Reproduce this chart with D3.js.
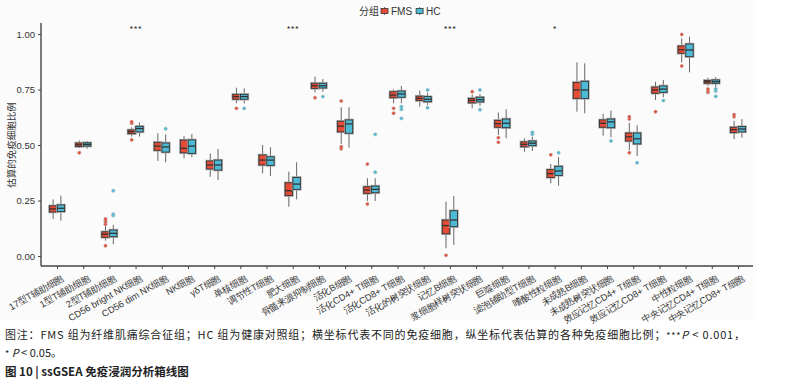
<!DOCTYPE html>
<html>
<head>
<meta charset="utf-8">
<script src="https://cdn.jsdelivr.net/npm/d3@7"></script>
<style>
  html, body { margin: 0; padding: 0; background: #fff; }
  svg { display: block; font-family: "Noto Sans CJK SC", "Noto Sans", sans-serif; }
</style>
</head>
<body>
<svg id="chart" width="796" height="387"></svg>
<script>
// ============================================================
//  Data
// ============================================================

const categories = [
  '17型T辅助细胞', '1型T辅助细胞', '2型T辅助细胞', 'CD56 bright NK细胞', 'CD56 dim NK细胞',
  'NK细胞', 'γδT细胞', '单核细胞', '调节性T细胞', '肥大细胞', '骨髓来源抑制细胞',
  '活化B细胞', '活化CD4+ T细胞', '活化CD8+ T细胞', '活化的树突状细胞', '记忆B细胞',
  '浆细胞样树突状细胞', '巨噬细胞', '滤泡辅助型T细胞', '嗜酸性粒细胞', '未成熟B细胞',
  '未成熟树突状细胞', '效应记忆CD4+ T细胞', '效应记忆CD8+ T细胞', '中性粒细胞',
  '中央记忆CD4+ T细胞', '中央记忆CD8+ T细胞'
];

const groups = ['FMS', 'HC'];

// [lower whisker, q1, median, q3, upper whisker]
const fmsBox = [
  [0.167, 0.198, 0.212, 0.226, 0.255], [0.486, 0.493, 0.501, 0.509, 0.520],
  [0.069, 0.084, 0.098, 0.109, 0.135], [0.538, 0.551, 0.560, 0.568, 0.580],
  [0.428, 0.476, 0.495, 0.512, 0.553], [0.440, 0.465, 0.485, 0.522, 0.540],
  [0.357, 0.392, 0.410, 0.428, 0.462], [0.688, 0.706, 0.718, 0.728, 0.758],
  [0.372, 0.410, 0.432, 0.455, 0.500], [0.222, 0.272, 0.294, 0.330, 0.380],
  [0.737, 0.755, 0.767, 0.778, 0.808], [0.505, 0.559, 0.585, 0.607, 0.670],
  [0.248, 0.282, 0.297, 0.312, 0.350], [0.688, 0.713, 0.725, 0.740, 0.751],
  [0.673, 0.700, 0.710, 0.720, 0.745], [0.035, 0.100, 0.137, 0.162, 0.245],
  [0.665, 0.690, 0.701, 0.710, 0.727], [0.545, 0.580, 0.596, 0.611, 0.646],
  [0.470, 0.492, 0.503, 0.514, 0.530], [0.327, 0.354, 0.371, 0.389, 0.414],
  [0.650, 0.710, 0.748, 0.782, 0.872], [0.542, 0.580, 0.598, 0.613, 0.640],
  [0.477, 0.518, 0.537, 0.554, 0.600], [0.703, 0.733, 0.748, 0.761, 0.785],
  [0.872, 0.913, 0.929, 0.946, 0.980], [0.766, 0.778, 0.785, 0.791, 0.803],
  [0.526, 0.556, 0.569, 0.580, 0.609]
];
const fmsOut = [
  [], [0.465], [0.046, 0.143, 0.152, 0.159, 0.167], [0.523, 0.598, 0.605], [], [], [],
  [0.665], [], [], [0.713], [0.483, 0.492, 0.698], [0.234, 0.414], [0.643, 0.665], [],
  [0.003], [0.740], [0.512, 0.533], [], [0.456], [], [], [0.465, 0.617, 0.627], [0.650],
  [0.856, 0.998], [0.737, 0.743, 0.752], [0.627, 0.637]
];

const hcBox = [
  [0.159, 0.200, 0.215, 0.230, 0.272], [0.483, 0.495, 0.503, 0.510, 0.518],
  [0.053, 0.087, 0.102, 0.117, 0.140], [0.538, 0.559, 0.574, 0.584, 0.602],
  [0.422, 0.468, 0.491, 0.509, 0.548], [0.445, 0.462, 0.495, 0.523, 0.550],
  [0.342, 0.387, 0.410, 0.432, 0.482], [0.688, 0.706, 0.718, 0.728, 0.755],
  [0.360, 0.408, 0.432, 0.447, 0.490], [0.255, 0.300, 0.324, 0.354, 0.422],
  [0.740, 0.757, 0.767, 0.778, 0.797], [0.488, 0.553, 0.595, 0.613, 0.670],
  [0.248, 0.285, 0.300, 0.315, 0.350], [0.688, 0.715, 0.730, 0.743, 0.766],
  [0.680, 0.695, 0.706, 0.718, 0.735], [0.050, 0.132, 0.162, 0.204, 0.270],
  [0.676, 0.694, 0.704, 0.715, 0.730], [0.530, 0.578, 0.598, 0.617, 0.661],
  [0.473, 0.497, 0.508, 0.518, 0.537], [0.317, 0.363, 0.383, 0.404, 0.445],
  [0.643, 0.710, 0.748, 0.787, 0.868], [0.535, 0.578, 0.604, 0.617, 0.655],
  [0.450, 0.505, 0.528, 0.554, 0.589], [0.715, 0.737, 0.752, 0.766, 0.793],
  [0.827, 0.898, 0.928, 0.955, 0.988], [0.761, 0.778, 0.785, 0.793, 0.806],
  [0.533, 0.559, 0.572, 0.583, 0.617]
];
const hcOut = [
  [], [], [0.182, 0.188, 0.294], [], [0.573], [], [], [0.665], [], [], [0.718], [],
  [0.377, 0.548], [0.620, 0.661, 0.673], [0.668, 0.748], [], [0.659, 0.748], [],
  [0.548, 0.557], [0.465], [], [0.518], [0.420], [0.700], [], [0.719, 0.743, 0.752], []
];

const sigLabels = ['', '', '', '***', '', '', '', '', '', '***', '', '', '', '', '',
  '***', '', '', '', '*', '', '', '', '', '', '', ''];

const yTicks = [0, 0.25, 0.5, 0.75, 1];

const colors = { FMS: '#e64b35', HC: '#4dbbd5' };

// ============================================================
//  Layout
// ============================================================

const svg = d3.select('#chart');
const axisLeftX = 41;
const axisRightX = 753;
const axisBottomY = 266;

svg.append('rect')
  .attr('x', 0).attr('y', 0)
  .attr('width', 756).attr('height', 320)
  .attr('fill', '#fbfbfb');

const x = d3.scalePoint().domain(categories).range([57, 738]);
const y = d3.scaleLinear().domain([0, 1]).range([256, 34]);
const dodge = d3.scaleOrdinal().domain(groups).range([-3.9, 3.9]);
const boxW = 7.4;

// axes
svg.append('line')
  .attr('x1', axisLeftX).attr('x2', axisLeftX)
  .attr('y1', 23).attr('y2', axisBottomY)
  .attr('stroke', '#444').attr('stroke-width', 1.4);
svg.append('line')
  .attr('x1', axisLeftX).attr('x2', axisRightX)
  .attr('y1', axisBottomY).attr('y2', axisBottomY)
  .attr('stroke', '#444').attr('stroke-width', 1.4);

const yAxis = svg.append('g')
  .attr('transform', `translate(${axisLeftX},0)`)
  .call(d3.axisLeft(y).tickValues(yTicks).tickFormat(d3.format('.2f')).tickSize(3));
yAxis.select('.domain').remove();
yAxis.selectAll('line').attr('stroke', '#444');
yAxis.selectAll('text').attr('fill', '#333').attr('font-size', 9.5)
  .attr('font-family', 'Liberation Sans, Arial, sans-serif');

const xAxis = svg.append('g')
  .attr('transform', `translate(0,${axisBottomY})`)
  .call(d3.axisBottom(x).tickSize(3).tickSizeOuter(0));
xAxis.select('.domain').remove();
xAxis.selectAll('line').attr('stroke', '#444');
xAxis.selectAll('text')
  .attr('fill', '#333')
  .attr('font-size', 9.3)
  .attr('text-anchor', 'end')
  .attr('dy', '0.35em')
  .attr('transform', 'translate(2,6) rotate(-30)');

svg.append('text')
  .attr('transform', `translate(15,${y(0.5)}) rotate(-90)`)
  .attr('text-anchor', 'middle')
  .attr('font-size', 9.5)
  .attr('fill', '#333')
  .text('估算的免疫细胞比例');

// ============================================================
//  Boxes
// ============================================================

function drawGroup(name, boxes, outs) {
  const g = svg.append('g');
  const color = colors[name];
  boxes.forEach((b, i) => {
    const cx = x(categories[i]) + dodge(name);
    const [lo, q1, med, q3, hi] = b;
    g.append('line')
      .attr('x1', cx).attr('x2', cx)
      .attr('y1', y(hi)).attr('y2', y(q3))
      .attr('stroke', '#666').attr('stroke-width', 1);
    g.append('line')
      .attr('x1', cx).attr('x2', cx)
      .attr('y1', y(q1)).attr('y2', y(lo))
      .attr('stroke', '#666').attr('stroke-width', 1);
    g.append('rect')
      .attr('x', cx - boxW / 2).attr('y', y(q3))
      .attr('width', boxW).attr('height', y(q1) - y(q3))
      .attr('fill', 'none').attr('stroke', '#aaa').attr('stroke-width', 2.4);
    g.append('rect')
      .attr('x', cx - boxW / 2).attr('y', y(q3))
      .attr('width', boxW).attr('height', y(q1) - y(q3))
      .attr('fill', color).attr('stroke', '#333').attr('stroke-width', 0.9);
    g.append('line')
      .attr('x1', cx - boxW / 2).attr('x2', cx + boxW / 2)
      .attr('y1', y(med)).attr('y2', y(med))
      .attr('stroke', '#333').attr('stroke-width', 1.3);
    outs[i].forEach(v => {
      g.append('circle')
        .attr('cx', cx).attr('cy', y(v)).attr('r', 1.7)
        .attr('fill', color).attr('stroke', '#bbb').attr('stroke-width', 0.5);
    });
  });
}

drawGroup('FMS', fmsBox, fmsOut);
drawGroup('HC', hcBox, hcOut);

// significance marks
svg.append('g').selectAll('text')
  .data(sigLabels.map((s, i) => ({ s, c: categories[i] })).filter(d => d.s))
  .join('text')
  .attr('x', d => x(d.c))
  .attr('y', 33)
  .attr('text-anchor', 'middle')
  .attr('font-size', 9)
  .attr('fill', '#333')
  .text(d => d.s);

// ============================================================
//  Legend
// ============================================================

const legend = svg.append('g').attr('font-size', 10).attr('fill', '#333');
legend.append('text').attr('x', 359).attr('y', 15).text('分组');
let lx = 381;
groups.forEach(name => {
  legend.append('line')
    .attr('x1', lx + 3.5).attr('x2', lx + 3.5)
    .attr('y1', 7).attr('y2', 15).attr('stroke', '#666');
  legend.append('rect')
    .attr('x', lx).attr('y', 8.5)
    .attr('width', 7).attr('height', 5)
    .attr('fill', colors[name]).attr('stroke', '#333').attr('stroke-width', 0.8);
  const t = legend.append('text')
    .attr('x', lx + 10).attr('y', 15)
    .attr('font-family', 'Liberation Sans, Arial, sans-serif')
    .text(name);
  lx += 10 + t.node().getComputedTextLength() + 4;
});

// ============================================================
//  Caption
// ============================================================

const caption = svg.append('g').attr('font-size', 11).attr('fill', '#222');
caption.append('text').attr('x', 5).attr('y', 339)
  .attr('textLength', 740).attr('lengthAdjust', 'spacing')
  .html('图注：FMS 组为纤维肌痛综合征组；HC 组为健康对照组；横坐标代表不同的免疫细胞，纵坐标代表估算的各种免疫细胞比例；<tspan font-size="9">***</tspan><tspan font-style="italic">P</tspan> &lt; 0.001，');
caption.append('text').attr('x', 5).attr('y', 357)
  .html('<tspan font-size="9">*</tspan> <tspan font-style="italic">P</tspan> &lt; 0.05。');
caption.append('text').attr('x', 5).attr('y', 376)
  .attr('font-weight', 'bold')
  .attr('font-size', 11.5)
  .text('图 10 | ssGSEA 免疫浸润分析箱线图');
</script>
</body>
</html>
